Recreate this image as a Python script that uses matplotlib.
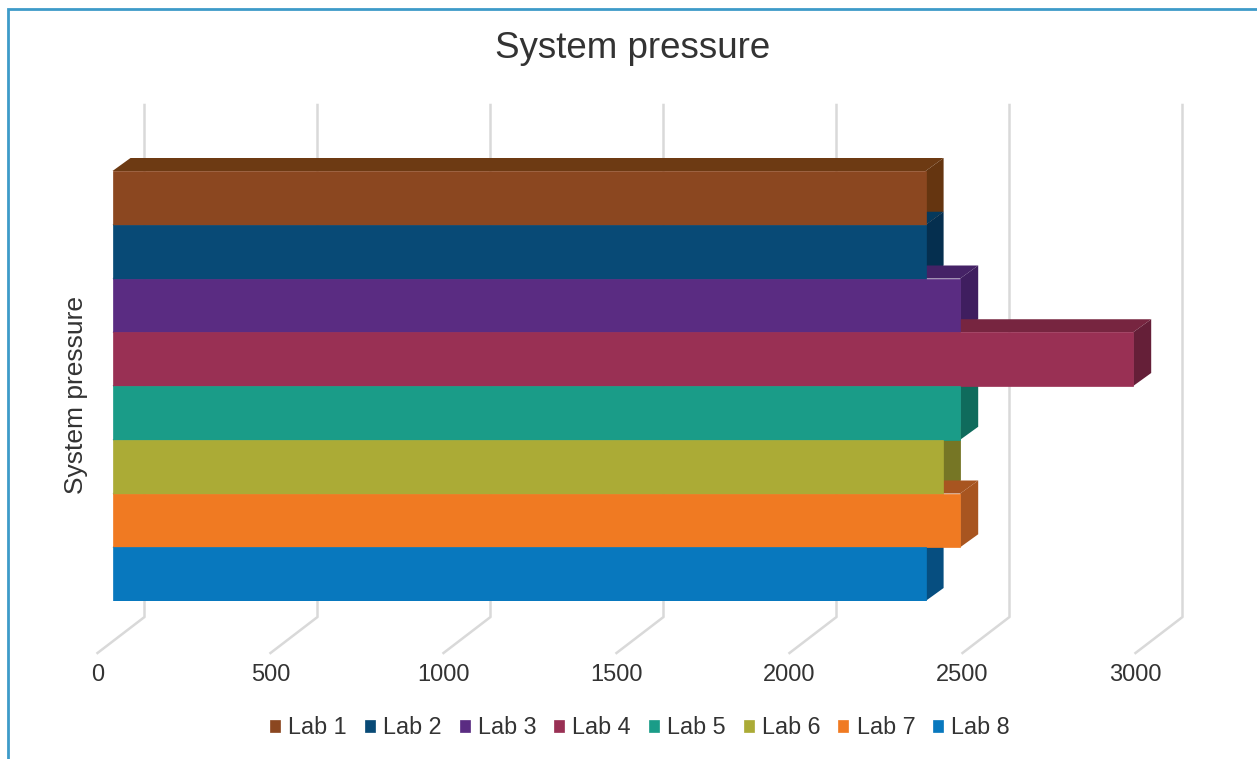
#!/usr/bin/env python3
"""
Horizontal pseudo-3D bar chart of system pressure per lab.
"""

import matplotlib.pyplot as plt
from matplotlib.patches import Polygon, Rectangle

labs = ["Lab 1", "Lab 2", "Lab 3", "Lab 4", "Lab 5", "Lab 6", "Lab 7", "Lab 8"]
pressure = [2350, 2350, 2450, 2950, 2450, 2400, 2450, 2350]
x_ticks = [0, 500, 1000, 1500, 2000, 2500, 3000]

front_colors = ["#8B4720", "#084A76", "#5A2C82", "#993054", "#1A9C88", "#ABAB36", "#F07A22", "#0878BE"]
top_colors = ["#6D3A13", "#05395C", "#452266", "#772540", "#0F6B5C", "#767625", "#A85520", "#064E80"]
side_colors = ["#653510", "#052F4F", "#3F1E5F", "#651F38", "#0F6B5C", "#767625", "#A85520", "#064E80"]

WIDTH, HEIGHT = 1257, 759


def main():
    plt.rcParams["font.family"] = ["Liberation Sans", "DejaVu Sans"]
    fig = plt.figure(figsize=(WIDTH / 100, HEIGHT / 100), dpi=100)

    # Axes cover the front plane of the bars, all offsets below are in pixels
    left, right, top, bottom = 112.5, 1150.5, 171, 601
    ax = fig.add_axes([left / WIDTH, 1 - bottom / HEIGHT, (right - left) / WIDTH, (bottom - top) / HEIGHT])
    ax.set_xlim(0, 3000)
    ax.set_ylim(len(labs) - 0.5, -0.5)
    ax.axis("off")

    px_x = 3000 / (right - left)
    px_y = len(labs) / (bottom - top)
    depth_x = 18 * px_x
    depth_y = 13 * px_y

    # Chart border, runs off the right and bottom of the image
    fig.add_artist(Rectangle((8 / WIDTH, -0.05), 1.1, 1 - 9 / HEIGHT + 0.05,
                             transform=fig.transFigure, fill=False, edgecolor="#3D9BC9", linewidth=2))

    # Grid lines: floor diagonal, then the back wall
    for tick in x_ticks:
        floor_front = (tick - 15 * px_x, len(labs) - 0.5 + 52 * px_y)
        floor_back = (tick + 32 * px_x, len(labs) - 0.5 + 16 * px_y)
        wall_top = (tick + 32 * px_x, -0.5 - 66 * px_y)
        xs, ys = zip(floor_front, floor_back, wall_top)
        ax.plot(xs, ys, color="#D9D9D9", linewidth=1.8, clip_on=False, zorder=1)
        ax.text(floor_front[0], len(labs) - 0.5 + 74 * px_y, str(tick), ha="center", va="center",
                fontsize=17, color="#333333", clip_on=False)

    # Top and side faces first, from the upper bar down
    for i, value in enumerate(pressure):
        y0, y1 = i - 0.5, i + 0.5
        ax.add_patch(Polygon([(0, y0), (depth_x, y0 - depth_y), (value + depth_x, y0 - depth_y), (value, y0)],
                             facecolor=top_colors[i], edgecolor="none", zorder=2, clip_on=False))
        ax.add_patch(Polygon([(value, y0), (value + depth_x, y0 - depth_y), (value + depth_x, y1 - depth_y), (value, y1)],
                             facecolor=side_colors[i], edgecolor="none", zorder=2, clip_on=False))

    # Front faces
    bars = ax.barh(range(len(labs)), pressure, height=1.0, color=front_colors,
                   edgecolor=front_colors, linewidth=0.5, zorder=3)

    fig.text(633 / WIDTH, 1 - 48 / HEIGHT, "System pressure", ha="center", va="center",
             fontsize=26.5, color="#333333")
    fig.text(76 / WIDTH, 1 - 395 / HEIGHT, "System pressure", ha="center", va="center",
             rotation=90, fontsize=19, color="#333333")

    fig.legend(bars.patches, labs, ncol=len(labs), loc="center",
               bbox_to_anchor=(640 / WIDTH, 1 - 728 / HEIGHT), frameon=False,
               fontsize=16.8, handlelength=0.43, handleheight=0.43,
               handletextpad=0.35, columnspacing=0.77, labelcolor="#333333")

    fig.savefig("out.png", dpi=100)


if __name__ == "__main__":
    main()
